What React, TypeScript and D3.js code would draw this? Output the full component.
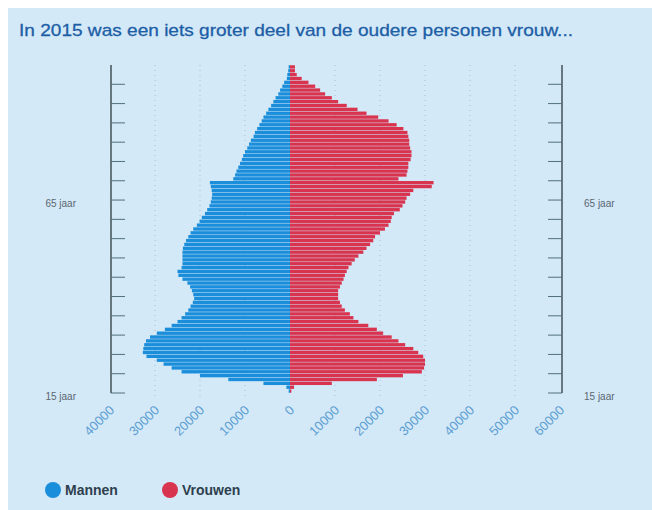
import * as d3 from "d3";
import React, { useEffect, useRef } from "react";

// leeftijd 15 t/m 99, één balk per jaar
const ages = d3.range(15, 100);
const mannen = [
  300, 800, 5900, 13700, 20000, 24100, 26300, 28100, 29600, 31900,
  32700, 32600, 32400, 32000, 31100, 29600, 27800, 26300, 25000, 24100,
  23300, 22600, 22100, 21600, 21300, 21500, 21800, 22200, 22800, 23900,
  24800, 25000, 24100, 23900, 23900, 23900, 23900, 23800, 23500, 23100,
  22600, 22100, 21500, 20700, 20100, 19600, 18900, 18400, 17900, 17600,
  17400, 17300, 17400, 17600, 17800, 12600, 12200, 11900, 11500, 11100,
  10700, 10400, 10000, 9500, 9100, 8700, 8100, 7800, 7300, 6800,
  6300, 5900, 5300, 4800, 4200, 3700, 3200, 2600, 2200, 1700,
  1300, 700, 600, 400, 300,
];
const vrouwen = [
  300, 900, 9300, 19300, 25100, 29300, 29800, 30000, 30000, 29600,
  28500, 27400, 25600, 24100, 22600, 20700, 19300, 17400, 15200, 14100,
  13300, 12200, 11500, 11100, 10700, 10700, 10700, 11100, 11500, 11900,
  12200, 12600, 13000, 13700, 14400, 15200, 16300, 17000, 17800, 18500,
  18900, 20000, 21100, 21900, 22400, 22600, 23100, 24400, 25000, 25600,
  25900, 26700, 27400, 31500, 31900, 24100, 25900, 26100, 26300, 26300,
  26800, 27000, 27000, 26700, 26500, 26500, 26300, 26100, 25200, 23700,
  21900, 19600, 17000, 15000, 12600, 10700, 9300, 7800, 6700, 5600,
  4100, 2600, 1500, 1100, 1100,
];
const xTicks = [-40000, -30000, -20000, -10000, 0, 10000, 20000, 30000, 40000, 50000, 60000];
const ageTicks = d3.range(15, 100, 5);
const ageLabels = [
  { age: 65, label: "65 jaar" },
  { age: 15, label: "15 jaar" },
];
const legend = [
  { name: "Mannen", color: "#1a8ddb" },
  { name: "Vrouwen", color: "#d8344f" },
];
const title = "In 2015 was een iets groter deel van de oudere personen vrouw...";

const W = 652;
const H = 510;

const App: React.FC = () => {
  const ref = useRef<SVGSVGElement | null>(null);

  useEffect(() => {
    if (!ref.current) return;
    const svg = d3.select(ref.current);
    svg.selectAll("*").remove();

    const x = d3.scaleLinear().domain([-40000, 60000]).range([110, 560]);
    const y = d3.scaleLinear().domain([15, 100]).range([393, 65]);
    const font = "Liberation Sans, Arial, sans-serif";

    // achtergrond
    svg.append("rect").attr("width", W).attr("height", H).attr("fill", "#fff");
    svg.append("rect")
      .attr("x", 8).attr("y", 8)
      .attr("width", W - 8).attr("height", H - 8)
      .attr("fill", "#d4e9f7");

    // titel
    svg.append("text")
      .attr("x", 19).attr("y", 36)
      .attr("font-family", font)
      .attr("font-size", 17)
      .attr("fill", "#1d5ea6")
      .attr("stroke", "#1d5ea6").attr("stroke-width", 0.3)
      .attr("textLength", 554)
      .attr("lengthAdjust", "spacingAndGlyphs")
      .text(title);

    // grid
    svg.append("g")
      .selectAll("line")
      .data(xTicks.filter((t) => t !== 0 && t !== -40000 && t !== 60000))
      .join("line")
      .attr("x1", (d) => x(d)).attr("x2", (d) => x(d))
      .attr("y1", 65).attr("y2", 397)
      .attr("stroke", "#a9bfcf")
      .attr("stroke-width", 1)
      .attr("stroke-dasharray", "1,4");

    // balken
    const band = y(15) - y(16);
    const bars = svg.append("g");
    bars.selectAll("rect.m")
      .data(ages)
      .join("rect")
      .attr("class", "m")
      .attr("x", (_d, i) => x(-mannen[i]))
      .attr("y", (d) => y(d + 1) + 0.25)
      .attr("width", (_d, i) => x(0) - x(-mannen[i]))
      .attr("height", band - 0.5)
      .attr("fill", legend[0].color);
    bars.selectAll("rect.v")
      .data(ages)
      .join("rect")
      .attr("class", "v")
      .attr("x", x(0))
      .attr("y", (d) => y(d + 1) + 0.25)
      .attr("width", (_d, i) => x(vrouwen[i]) - x(0))
      .attr("height", band - 0.5)
      .attr("fill", legend[1].color);

    // y-assen links en rechts
    const axisColor = "#4d5a60";
    [{ ax: 111, dir: 1 }, { ax: 562, dir: -1 }].forEach(({ ax, dir }) => {
      const g = svg.append("g");
      g.append("line")
        .attr("x1", ax).attr("x2", ax)
        .attr("y1", y(100)).attr("y2", y(15))
        .attr("stroke", axisColor).attr("stroke-width", 1.6);
      g.selectAll("line.t")
        .data(ageTicks)
        .join("line")
        .attr("class", "t")
        .attr("x1", ax).attr("x2", ax + dir * 14)
        .attr("y1", (d) => y(d)).attr("y2", (d) => y(d))
        .attr("stroke", "#50707a").attr("stroke-width", 1);
      g.selectAll("text")
        .data(ageLabels)
        .join("text")
        .attr("x", dir === 1 ? 76 : 584)
        .attr("y", (d) => y(d.age) + 7)
        .attr("text-anchor", dir === 1 ? "end" : "start")
        .attr("font-family", font)
        .attr("font-size", 10)
        .attr("fill", "#5a6670")
        .text((d) => d.label);
    });

    // x-as labels
    svg.append("g")
      .selectAll("text")
      .data(xTicks)
      .join("text")
      .attr("transform", (d) => `translate(${x(d) + 5},${411}) rotate(-45)`)
      .attr("text-anchor", "end")
      .attr("font-family", font)
      .attr("font-size", 13)
      .attr("fill", "#5d9fd3")
      .text((d) => String(Math.abs(d)));

    // legenda
    const lg = svg.append("g");
    const lx = [53, 170];
    legend.forEach((l, i) => {
      lg.append("circle")
        .attr("cx", lx[i]).attr("cy", 490).attr("r", 8)
        .attr("fill", l.color);
      lg.append("text")
        .attr("x", lx[i] + 12).attr("y", 495)
        .attr("font-family", font)
        .attr("font-size", 14)
        .attr("font-weight", "bold")
        .attr("fill", "#2e3f4e")
        .text(l.name);
    });
  }, []);

  return (
    <svg
      ref={ref}
      width={W}
      height={H}
      style={{ position: "absolute", left: 0, top: 0 }}
    ></svg>
  );
};

export default App;
